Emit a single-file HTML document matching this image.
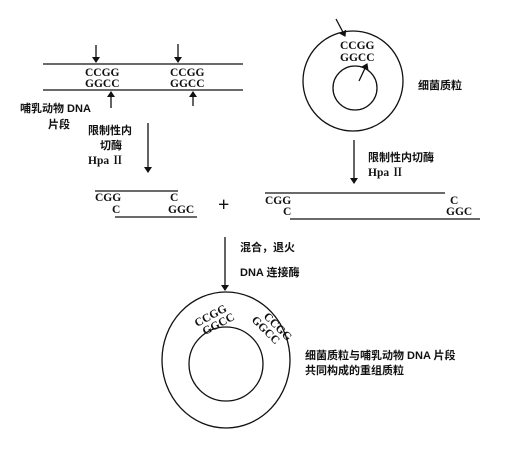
<!DOCTYPE html>
<html><head><meta charset="utf-8"><style>
body{margin:0;background:#fff;}
svg text{font-family:"Liberation Serif","Noto Serif CJK SC",serif;fill:#111;}
.c{font-family:"Liberation Sans","Noto Sans CJK SC",sans-serif;font-weight:bold;font-size:11px;}
.s{font-size:11.5px;font-weight:bold;}
</style></head><body>
<svg width="507" height="447" viewBox="0 0 507 447" xmlns="http://www.w3.org/2000/svg">
<defs><marker id="a" markerWidth="6" markerHeight="8" refX="5" refY="4" orient="auto" markerUnits="userSpaceOnUse"><path d="M0,0 L6,4 L0,8 Z" fill="#111"/></marker></defs>
<g stroke="#111" stroke-width="1.3" fill="none">
<line x1="43" y1="64" x2="243" y2="64"/>
<line x1="43" y1="90" x2="243" y2="90"/>
<line x1="96" y1="45" x2="96" y2="62" marker-end="url(#a)"/>
<line x1="178" y1="44" x2="178" y2="62" marker-end="url(#a)"/>
<line x1="111" y1="108" x2="111" y2="92" marker-end="url(#a)"/>
<line x1="193" y1="106" x2="193" y2="92" marker-end="url(#a)"/>
<line x1="148" y1="123" x2="148" y2="172" marker-end="url(#a)"/>
<line x1="95" y1="191" x2="178" y2="191"/>
<line x1="115" y1="217" x2="197" y2="217"/>
<circle cx="353" cy="81" r="50"/>
<circle cx="355" cy="88" r="22"/>
<line x1="336" y1="19" x2="345" y2="36" marker-end="url(#a)"/>
<line x1="359" y1="81" x2="367" y2="64" marker-end="url(#a)"/>
<line x1="354" y1="140" x2="354" y2="183" marker-end="url(#a)"/>
<line x1="265" y1="193" x2="445" y2="193"/>
<line x1="290" y1="219" x2="480" y2="219"/>
<line x1="225" y1="237" x2="225" y2="290" marker-end="url(#a)"/>
<ellipse cx="226" cy="360" rx="64" ry="68"/>
<circle cx="226" cy="364" r="37"/>
</g>
<text class="s" x="85" y="76">CCGG</text><text class="s" x="85" y="87">GGCC</text>
<text class="s" x="170" y="76">CCGG</text><text class="s" x="170" y="87">GGCC</text>
<text class="c" x="20" y="112">哺乳动物 DNA</text>
<text class="c" x="48" y="128">片段</text>
<text class="c" x="88" y="134">限制性内</text>
<text class="c" x="100" y="149">切酶</text>
<text class="s" x="88" y="164">Hpa Ⅱ</text>
<text class="s" x="95" y="201">CGG</text><text class="s" x="112" y="213">C</text>
<text class="s" x="170" y="201">C</text><text class="s" x="168" y="213">GGC</text>
<text x="218" y="211" style="font-size:20px;font-weight:bold">+</text>
<text class="s" x="340" y="49">CCGG</text><text class="s" x="340" y="61">GGCC</text>
<text class="c" x="418" y="89">细菌质粒</text>
<text class="c" x="368" y="161">限制性内切酶</text>
<text class="s" x="368" y="176">Hpa Ⅱ</text>
<text class="s" x="265" y="204">CGG</text><text class="s" x="283" y="215">C</text>
<text class="s" x="450" y="204">C</text><text class="s" x="446" y="215">GGC</text>
<text class="c" x="240" y="251">混合，退火</text>
<text class="c" x="240" y="276">DNA 连接酶</text>
<g transform="translate(197,327) rotate(-28)"><text class="s" x="0" y="0">CCGG</text><text class="s" x="3" y="11">GGCC</text></g>
<g transform="translate(263,317) rotate(45)"><text class="s" x="0" y="0">CCGG</text><text class="s" x="-6" y="11">GGCC</text></g>
<text class="c" x="305" y="359">细菌质粒与哺乳动物 DNA 片段</text>
<text class="c" x="305" y="374">共同构成的重组质粒</text>
</svg>
</body></html>
